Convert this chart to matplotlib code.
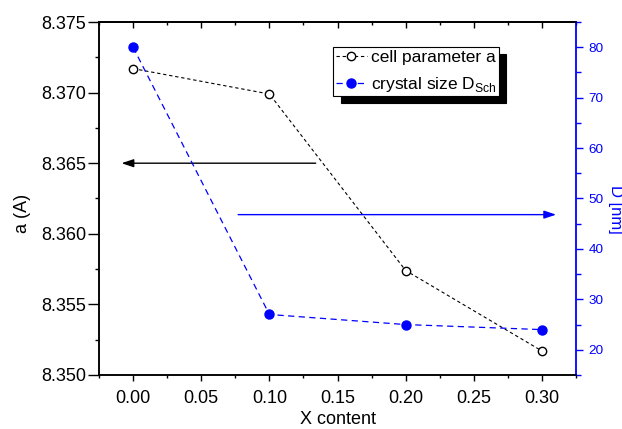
import matplotlib
matplotlib.use('Agg')
import matplotlib.pyplot as plt
from matplotlib.ticker import MultipleLocator, FormatStrFormatter

# values
x_content = [0.00, 0.10, 0.20, 0.30]
cell_a = [8.3717, 8.3699, 8.3574, 8.3517]
crystal_size = [80.0, 27.0, 25.0, 24.0]

x_ticks = [0.00, 0.05, 0.10, 0.15, 0.20, 0.25, 0.30]
a_ticks = [8.350, 8.355, 8.360, 8.365, 8.370, 8.375]
d_ticks = [20, 30, 40, 50, 60, 70, 80]

plt.rcParams['font.family'] = ['Liberation Sans', 'DejaVu Sans']
plt.rcParams['mathtext.fontset'] = 'custom'
plt.rcParams['mathtext.rm'] = 'Liberation Sans'

BLUE = '#0000ff'

fig = plt.figure(figsize=(6.22, 4.29), dpi=100)
ax = fig.add_axes([0.1592, 0.1259, 0.7669, 0.8228])
ax2 = ax.twinx()

l1, = ax.plot(x_content, cell_a, color='black', lw=0.8, dashes=(3, 2.5),
              marker='o', ms=6, mfc='white', mec='black', mew=1.0,
              label='cell parameter a')
l2, = ax2.plot(x_content, crystal_size, color=BLUE, lw=0.9, dashes=(5, 3.5),
               marker='o', ms=6.5, mfc=BLUE, mec=BLUE,
               label='crystal size D$_\\mathregular{Sch}$')

ax.set_xlim(-0.025, 0.325)
ax.set_ylim(8.350, 8.375)
ax2.set_ylim(15, 85)

ax.set_xticks(x_ticks)
ax.xaxis.set_major_formatter(FormatStrFormatter('%.2f'))
ax.xaxis.set_minor_locator(MultipleLocator(0.025))
ax.set_yticks(a_ticks)
ax.yaxis.set_major_formatter(FormatStrFormatter('%.3f'))
ax.yaxis.set_minor_locator(MultipleLocator(0.0025))
ax2.set_yticks(d_ticks)
ax2.yaxis.set_minor_locator(MultipleLocator(5))

ax.tick_params(axis='x', which='major', direction='out', length=4.6, width=1.0,
               labelsize=13, pad=6)
ax.tick_params(axis='x', which='minor', direction='out', length=2.2, width=1.0)
ax.tick_params(axis='y', which='major', direction='out', length=7.7, width=1.0,
               labelsize=13, pad=1.5)
ax.tick_params(axis='y', which='minor', direction='out', length=3.1, width=1.0)
ax2.tick_params(axis='y', which='major', direction='out', length=5.3, width=1.0,
                labelsize=9.7, pad=3.6, colors=BLUE)
ax2.tick_params(axis='y', which='minor', direction='out', length=3.6, width=1.0,
                colors=BLUE)

# top axis: inward ticks, no labels
top = ax.secondary_xaxis('top')
top.set_xticks(x_ticks)
top.xaxis.set_minor_locator(MultipleLocator(0.025))
top.tick_params(which='major', direction='in', length=4.3, width=1.0, labeltop=False)
top.tick_params(which='minor', direction='in', length=2.4, width=1.0)
top.spines['top'].set_linewidth(1.1)

for s in ['left', 'bottom', 'top', 'right']:
    ax.spines[s].set_linewidth(1.1)
    ax2.spines[s].set_linewidth(1.1)
ax2.spines['right'].set_color(BLUE)
ax2.spines['right'].set_linewidth(1.3)
ax.spines['right'].set_visible(False)

ax.set_xlabel('X content', fontsize=13, va='top')
ax.xaxis.set_label_coords(0.5, -0.103)
ax.set_ylabel('a (A)', fontsize=13, ha='center', va='center')
ax.yaxis.set_label_coords(-0.161, 0.459)
ax2.set_ylabel('D [nm]', fontsize=12, color=BLUE, rotation=-90,
               rotation_mode='default', ha='left', va='center')
ax2.yaxis.set_label_coords(1.066, 0.470)

# arrows pointing to the matching axis
ax.annotate('', xy=(-0.0085, 8.365), xytext=(0.134, 8.365),
            arrowprops=dict(arrowstyle='-|>,head_length=0.6,head_width=0.2',
                            color='black', lw=1.0, mutation_scale=12,
                            shrinkA=0, shrinkB=0))
ax2.annotate('', xy=(0.3104, 46.8), xytext=(0.0771, 46.8),
             arrowprops=dict(arrowstyle='-|>,head_length=0.6,head_width=0.2',
                             color=BLUE, lw=1.0, mutation_scale=12,
                             shrinkA=0, shrinkB=0))

leg = ax2.legend(handles=[l1, l2], loc='upper left',
                 bbox_to_anchor=(0.491, 0.928), borderaxespad=0,
                 fontsize=12.5, fancybox=False, framealpha=1,
                 edgecolor='black', handlelength=1.8, handletextpad=0.2,
                 borderpad=0.15, labelspacing=0.55,
                 shadow={'ox': 5.5, 'oy': -4.5, 'color': 'black', 'alpha': 1})
leg.get_frame().set_linewidth(0.8)

fig.savefig('out.png', dpi=100)
